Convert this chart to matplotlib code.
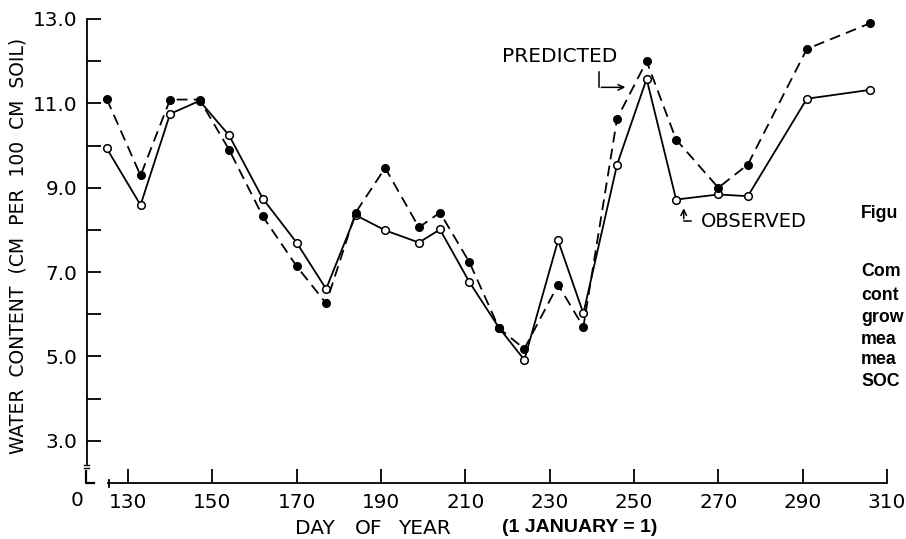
import matplotlib
matplotlib.use("Agg")
import matplotlib.pyplot as plt
from matplotlib.lines import Line2D

# -------------------------------
# Data
# -------------------------------
days = [125, 133, 140, 147, 154, 162, 170, 177, 184, 191, 199, 204,
        211, 218, 224, 232, 238, 246, 253, 260, 270, 277, 291, 306]
predicted = [11.10, 9.29, 11.09, 11.09, 9.90, 8.32, 7.14, 6.26, 8.41, 9.47, 8.06, 8.41,
             7.23, 5.67, 5.18, 6.70, 5.70, 10.64, 12.00, 10.14, 9.00, 9.55, 12.29, 12.90]
observed = [9.93, 8.59, 10.75, 11.06, 10.24, 8.74, 7.70, 6.60, 8.35, 7.99, 7.70, 8.01,
            6.76, 5.68, 4.92, 7.75, 6.02, 9.55, 11.58, 8.72, 8.84, 8.80, 11.11, 11.32]

x_ticks = [130, 150, 170, 190, 210, 230, 250, 270, 290, 310]
y_ticks = [3, 5, 7, 9, 11, 13]
y_minor = [4, 6, 8, 10, 12]
caption = ["Figu", "", "Com", "cont", "grow", "mea", "mea", "SOC"]

W, H = 906, 539
fig = plt.figure(figsize=(W / 100, H / 100), dpi=100)
ax = fig.add_axes([87 / W, 1 - 483 / H, (887 - 87) / W, (483 - 19) / H])
ax.set_xlim(120.3, 310)
ax.set_ylim(2.0, 13.0)

ax.plot(days, observed, color="black", lw=1.3, marker="o", ms=5.5,
        mfc="white", mec="black", mew=1.1, zorder=3)
ax.plot(days, predicted, color="black", lw=1.3, ls=(0, (6, 3.5)), marker="o", ms=5.5,
        mfc="black", mec="black", zorder=4)

# axes styling
for s in ["top", "right"]:
    ax.spines[s].set_visible(False)
ax.spines["left"].set_bounds(2.45, 13.0)
ax.spines["bottom"].set_bounds(125.3, 310)
for s in ["left", "bottom"]:
    ax.spines[s].set_linewidth(1.3)

ax.set_xticks(x_ticks)
ax.set_xticklabels([str(t) for t in x_ticks])
ax.set_yticks(y_ticks)
ax.set_yticklabels(["%.1f" % t for t in y_ticks])
ax.set_yticks(y_minor, minor=True)
ax.tick_params(axis="both", which="both", direction="in", length=10, width=1.3,
               labelsize=14.4, pad=7)


# axis break marks, drawn in figure pixels
def px_line(xs, ys, lw=1.4):
    fig.add_artist(Line2D([x / W for x in xs], [1 - y / H for y in ys],
                          transform=fig.transFigure, color="black", lw=lw))


px_line([86, 86, 94], [471, 483, 483], lw=1.6)
px_line([84, 89], [465, 465], lw=1.0)
px_line([84, 89], [468, 468], lw=1.0)
px_line([109, 109], [480, 487], lw=1.3)
fig.text(76.7 / W, 1 - 500 / H, "0", fontsize=14.4, ha="center", va="center")

# axis labels
fig.text(18 / W, 1 - 246 / H, "WATER  CONTENT  (CM  PER  100  CM  SOIL)", rotation=90,
         fontsize=13.5, ha="center", va="center")
for word, xp in [("DAY", 295), ("OF", 355), ("YEAR", 398)]:
    fig.text(xp / W, 1 - 528 / H, word, fontsize=14.5, ha="left", va="center")
fig.text(502 / W, 1 - 528 / H, "(1 JANUARY = 1)", fontsize=14, family="Liberation Sans",
         weight="bold", ha="left", va="center")

# annotations
ax.text(232.4, 12.10, "PREDICTED", fontsize=14.5, ha="center", va="center")
ax.annotate("", xy=(248.6, 11.38), xytext=(241.6, 11.38),
            arrowprops=dict(arrowstyle="->", lw=1.1, color="black"))
ax.plot([241.6, 241.6], [11.75, 11.38], color="black", lw=1.1)
ax.text(265.9, 8.2, "OBSERVED", fontsize=14, ha="left", va="center")
ax.annotate("", xy=(261.8, 8.58), xytext=(261.8, 8.2),
            arrowprops=dict(arrowstyle="->", lw=1.1, color="black"))
ax.plot([261.8, 263.6], [8.2, 8.2], color="black", lw=1.1)

# clipped caption on the right
cap_y = [213, 240, 271, 295, 317, 339, 360, 382]
for txt, yy in zip(caption, cap_y):
    if txt:
        fig.text(861 / W, 1 - yy / H, txt, fontsize=12.8, family="Liberation Sans",
                 weight="bold", ha="left", va="center")

fig.savefig("out.png", dpi=100)
